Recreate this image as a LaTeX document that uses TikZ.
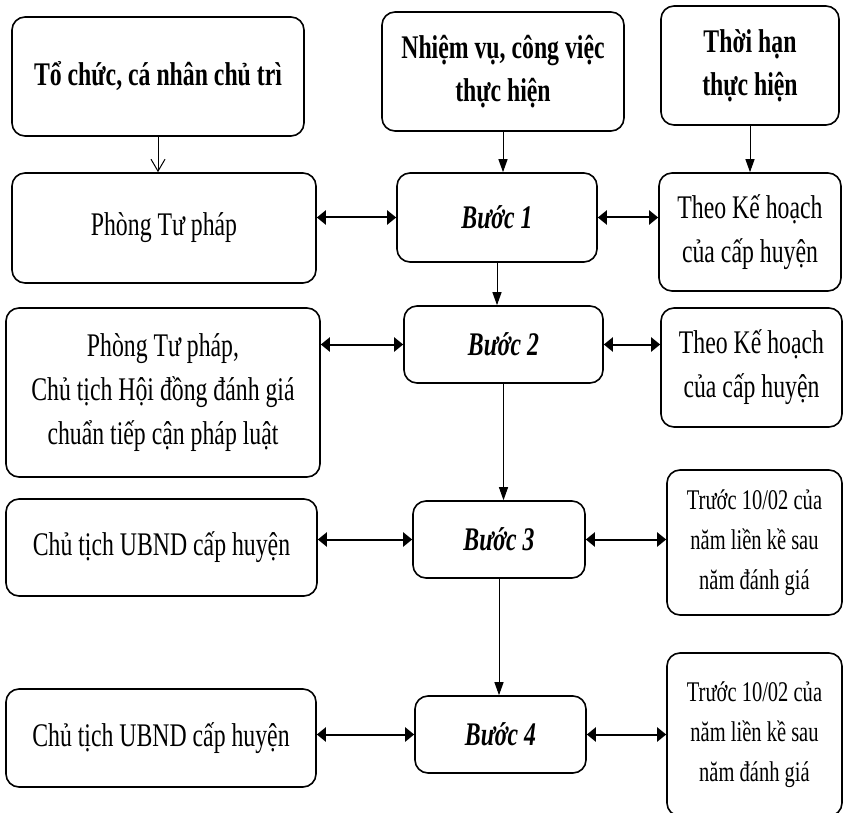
\documentclass[tikz,border=0pt]{standalone}
\usepackage{fontspec}
\setmainfont{Liberation Serif}[FakeStretch=0.72]
\usetikzlibrary{arrows.meta}

\begin{document}
\begin{tikzpicture}[x=1pt,y=1pt,line join=round,
	box/.style={draw,line width=1.6pt,rounded corners=13pt,align=center,inner sep=0pt,font=\fontsize{33}{44}\selectfont},
	head/.style={box,font=\bfseries\fontsize{33}{43}\selectfont},
	small/.style={box,font=\fontsize{28.5}{40}\selectfont},
	dbl/.style={{Triangle[length=9pt,width=14pt]}-{Triangle[length=9pt,width=14pt]},line width=2pt},
	down/.style={-{Triangle[length=13pt,width=9pt]},line width=1pt},
	open/.style={-{Straight Barb[length=12pt,width=14pt,line width=1pt]},line width=1pt}]
	\useasboundingbox (0,0) rectangle (843,-813);
	%\draw[gray!40] (0,0) grid[step=50] (843,-813);
	% Tieu de
	\node[head,minimum width=292pt,minimum height=119pt] (org) at (158,-76.5) {Tổ chức, cá nhân chủ trì};
	\node[head,minimum width=242pt,minimum height=119pt] (task) at (503,-71.5) {Nhiệm vụ, công việc\\thực hiện};
	\node[head,minimum width=178pt,minimum height=119pt] (time) at (750,-65.5) {Thời hạn\\thực hiện};
	% Cac buoc
	\node[box,minimum width=304pt,minimum height=110pt] (p1) at (164,-228) {Phòng Tư pháp};
	\node[box,minimum width=200pt,minimum height=89pt] (s1) at (497,-217.5) {\textbf{\textit{Bước 1}}};
	\node[box,minimum width=182pt,minimum height=118pt] (t1) at (750,-232) {Theo Kế hoạch\\của cấp huyện};
	\node[box,minimum width=314pt,minimum height=169pt] (p2) at (163,-392.5) {Phòng Tư pháp,\\Chủ tịch Hội đồng đánh giá\\chuẩn tiếp cận pháp luật};
	\node[box,minimum width=199pt,minimum height=77pt] (s2) at (503.5,-344.5) {\textbf{\textit{Bước 2}}};
	\node[box,minimum width=181pt,minimum height=119pt] (t2) at (751.5,-367.5) {Theo Kế hoạch\\của cấp huyện};
	\node[box,minimum width=311pt,minimum height=97pt] (p3) at (161.5,-547.5) {Chủ tịch UBND cấp huyện};
	\node[box,minimum width=172pt,minimum height=77pt] (s3) at (499,-539.5) {\textbf{\textit{Bước 3}}};
	\node[small,minimum width=175pt,minimum height=145pt] (t3) at (754.5,-542.5) {Trước 10/02 của\\năm liền kề sau\\năm đánh giá};
	\node[box,minimum width=310pt,minimum height=98pt] (p4) at (161,-738) {Chủ tịch UBND cấp huyện};
	\node[box,minimum width=171pt,minimum height=77pt] (s4) at (500.5,-734.5) {\textbf{\textit{Bước 4}}};
	\node[small,minimum width=175pt,minimum height=163pt] (t4) at (754.5,-734.5) {Trước 10/02 của\\năm liền kề sau\\năm đánh giá};
	% Mui ten
	\draw[open] (org.south) -- (org.south |- p1.north);
	\draw[down] (task.south) -- (task.south |- s1.north);
	\draw[down] (time.south) -- (time.south |- t1.north);
	\draw[down] (s1.south) -- (s1.south |- s2.north);
	\draw[down] (s2.south) -- (s2.south |- s3.north);
	\draw[down] (s3.south) -- (s3.south |- s4.north);
	\foreach \i in {1,...,4}{
		\draw[dbl] (s\i.west -| p\i.east) -- (s\i.west);
		\draw[dbl] (s\i.east) -- (s\i.east -| t\i.west);
	}
\end{tikzpicture}
\end{document}
